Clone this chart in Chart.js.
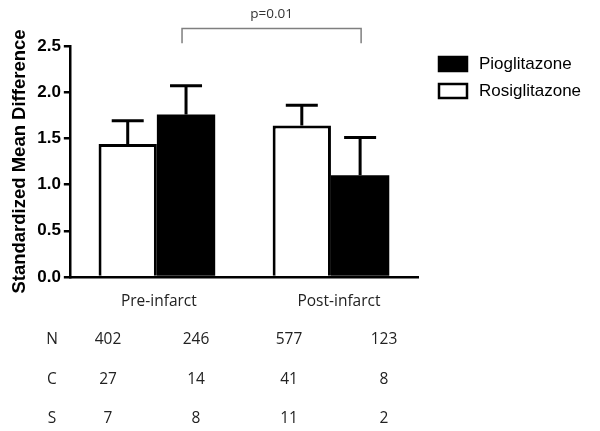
<!DOCTYPE html>
<html>
<head>
<meta charset="utf-8">
<script src="https://cdn.jsdelivr.net/npm/chart.js@4"></script>
<style>
  html, body { margin: 0; padding: 0; background: #fff; }
  #wrap { width: 600px; height: 431px; }
</style>
</head>
<body>
<div id="wrap"><canvas id="grafico"></canvas></div>
<script>
// dados
const categorias = ['Pre-infarct', 'Post-infarct'];
const rosiglitazone = [1.44, 1.64];
const rosiglitazoneErro = [0.25, 0.22];
const pioglitazone = [1.76, 1.10];
const pioglitazoneErro = [0.31, 0.41];
const ticksY = [0, 0.5, 1.0, 1.5, 2.0, 2.5];

// tabela abaixo do gráfico
const linhasTabela = ['N', 'C', 'S'];
const valoresN = [402, 246, 577, 123];
const valoresC = [27, 14, 41, 8];
const valoresS = [7, 8, 11, 2];
const pValor = 'p=0.01';

const fonteTexto = '"Open Sans", "Liberation Sans", sans-serif';
const fonteEixo = '"Liberation Sans", Arial, sans-serif';

// barras de erro (só para cima)
const pluginErro = {
    id: 'barrasErro',
    afterDatasetsDraw(chart) {
        const ctx = chart.ctx;
        const y = chart.scales.y;
        const erros = [rosiglitazoneErro, pioglitazoneErro];
        ctx.save();
        ctx.strokeStyle = '#000';
        ctx.lineWidth = 3;
        chart.data.datasets.forEach((ds, i) => {
            const meta = chart.getDatasetMeta(i);
            meta.data.forEach((bar, j) => {
                const topo = y.getPixelForValue(ds.data[j]);
                const fim = y.getPixelForValue(ds.data[j] + erros[i][j]);
                ctx.beginPath();
                ctx.moveTo(bar.x, topo);
                ctx.lineTo(bar.x, fim);
                ctx.moveTo(bar.x - 16, fim);
                ctx.lineTo(bar.x + 16, fim);
                ctx.stroke();
            });
        });
        ctx.restore();
    }
};

// colchete do p-valor, legenda, rótulos e tabela
const pluginExtras = {
    id: 'extras',
    afterDraw(chart) {
        const ctx = chart.ctx;
        const area = chart.chartArea;
        const x = chart.scales.x;
        const y = chart.scales.y;
        const metaPio = chart.getDatasetMeta(1);
        ctx.save();

        // colchete
        const xa = metaPio.data[0].x - 4;
        const xb = metaPio.data[1].x + 1;
        const yTopo = y.getPixelForValue(2.69);
        const yBase = y.getPixelForValue(2.53);
        ctx.strokeStyle = '#7f7f7f';
        ctx.lineWidth = 1.5;
        ctx.beginPath();
        ctx.moveTo(xa, yBase);
        ctx.lineTo(xa, yTopo);
        ctx.lineTo(xb, yTopo);
        ctx.lineTo(xb, yBase);
        ctx.stroke();
        ctx.fillStyle = '#333';
        ctx.font = '13.5px ' + fonteTexto;
        ctx.textAlign = 'center';
        ctx.textBaseline = 'middle';
        ctx.fillText(pValor, (xa + xb) / 2, yTopo - 14);

        // legenda
        const lx = area.right + 21;
        const itens = [
            { nome: 'Pioglitazone', cor: '#000' },
            { nome: 'Rosiglitazone', cor: '#fff' }
        ];
        ctx.font = '17px ' + fonteEixo;
        ctx.textAlign = 'left';
        itens.forEach((it, k) => {
            const ly = 57 + k * 27;
            ctx.fillStyle = it.cor;
            ctx.fillRect(lx, ly, 28, 14);
            ctx.strokeStyle = '#000';
            ctx.lineWidth = 2.5;
            ctx.strokeRect(lx, ly, 28, 14);
            ctx.fillStyle = '#000';
            ctx.fillText(it.nome, lx + 40, ly + 7);
        });

        // rótulos das categorias
        ctx.font = '15.5px ' + fonteTexto;
        ctx.fillStyle = '#222';
        ctx.textAlign = 'center';
        categorias.forEach((c, i) => {
            const cx = x.getPixelForValue(i) + (i === 1 ? 8 : 2);
            ctx.fillText(c, cx, area.bottom + 25);
        });

        // tabela N / C / S
        const colunas = [108, 196, 289, 384];
        const linhas = [valoresN, valoresC, valoresS];
        linhasTabela.forEach((r, k) => {
            const ty = area.bottom + 63 + k * 39.5;
            ctx.fillText(r, 52, ty);
            linhas[k].forEach((v, m) => {
                ctx.fillText(String(v), colunas[m], ty);
            });
        });
        ctx.restore();
    }
};

const ctx = document.getElementById('grafico').getContext('2d');
window.grafico = new Chart(ctx, {
    type: 'bar',
    data: {
        labels: categorias,
        datasets: [
            {
                label: 'Rosiglitazone',
                data: rosiglitazone,
                backgroundColor: '#fff',
                borderColor: '#000',
                borderWidth: 3,
                categoryPercentage: 0.67,
                barPercentage: 1.0
            },
            {
                label: 'Pioglitazone',
                data: pioglitazone,
                backgroundColor: '#000',
                borderWidth: 0,
                categoryPercentage: 0.67,
                barPercentage: 1.0
            }
        ]
    },
    options: {
        responsive: true,
        maintainAspectRatio: false,
        animation: false,
        layout: { padding: { left: 9, right: 182, top: 46, bottom: 154 } },
        plugins: {
            legend: { display: false },
            tooltip: { enabled: false }
        },
        scales: {
            x: {
                ticks: { display: false },
                grid: { display: false, drawTicks: false },
                border: { display: true, color: '#000', width: 2.5 }
            },
            y: {
                min: 0,
                max: 2.5,
                afterBuildTicks: axis => { axis.ticks = ticksY.map(v => ({ value: v })); },
                ticks: {
                    color: '#000',
                    font: { family: fonteEixo, size: 17, weight: 'bold' },
                    padding: 3,
                    callback: v => Number(v).toFixed(1)
                },
                grid: { drawOnChartArea: false, drawTicks: true, tickLength: 6, color: '#000', lineWidth: 2.5 },
                border: { display: true, color: '#000', width: 2.5 },
                title: {
                    display: true,
                    text: 'Standardized Mean Difference',
                    color: '#000',
                    font: { family: fonteEixo, size: 18.5, weight: 'bold' },
                    padding: { top: 0, bottom: 3 }
                }
            }
        }
    },
    plugins: [pluginErro, pluginExtras]
});
</script>
</body>
</html>
